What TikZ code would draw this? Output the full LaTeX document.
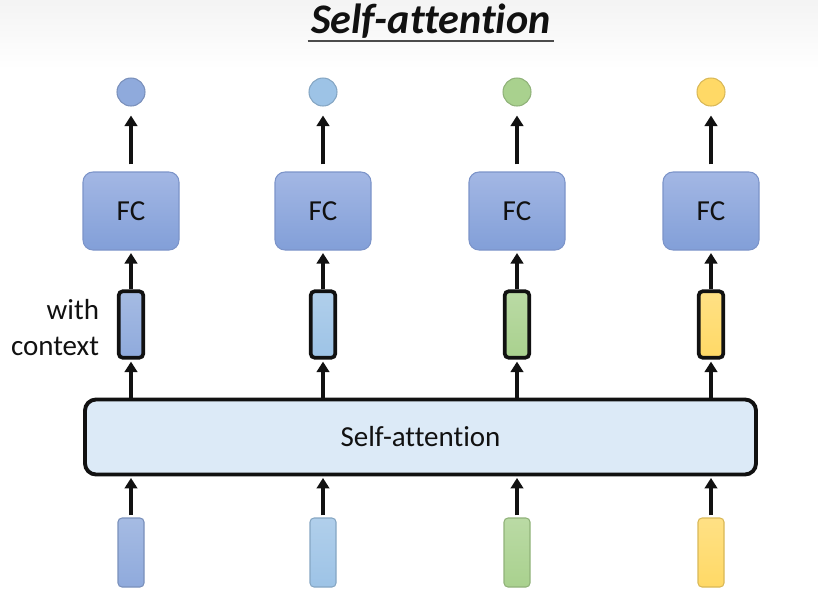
\documentclass[tikz,border=0pt]{standalone}
\usepackage{fontspec}
\setmainfont{Carlito}[Ligatures={NoCommon}]
\usepackage{tikz}
\usetikzlibrary{arrows.meta,positioning}
\definecolor{VecBlue}{HTML}{8FAADC}
\definecolor{VecSky}{HTML}{9DC3E6}
\definecolor{VecGreen}{HTML}{A9D18E}
\definecolor{VecGold}{HTML}{FFD966}
\definecolor{FCTop}{HTML}{A3B7E4}
\definecolor{FCBottom}{HTML}{829FD8}
\definecolor{FCEdge}{HTML}{7C94C9}
\definecolor{SAFill}{HTML}{DCEAF7}
\definecolor{Ink}{HTML}{111111}
\tikzset{
  every picture/.style={line width=2.1pt},
  bodytext/.style={font=\fontsize{16.5}{21}\selectfont, text=Ink},
  fcbox/.style={
    bodytext,
    draw=FCEdge,
    line width=0.6pt,
    rounded corners=2mm,
    top color=FCTop,
    bottom color=FCBottom,
    minimum width=19.2mm,
    minimum height=15.6mm,
    inner sep=0pt
  },
  ctxbox/.style={
    draw=Ink,
    line width=2.1pt,
    rounded corners=0.8mm,
    minimum width=4.9mm,
    minimum height=13.3mm,
    inner sep=0pt
  },
  vecbox/.style={
    line width=0.6pt,
    rounded corners=0.8mm,
    minimum width=5.2mm,
    minimum height=13.8mm,
    inner sep=0pt
  },
  outdot/.style={circle, line width=0.6pt, minimum size=5.6mm, inner sep=0pt},
  sabox/.style={
    bodytext,
    draw=Ink,
    line width=2.2pt,
    rounded corners=2.2mm,
    fill=SAFill,
    minimum width=134.2mm,
    minimum height=15.0mm
  },
  flowarrow/.style={-{Triangle[length=2.1mm,width=2.5mm]}, draw=Ink, line width=2.1pt},
  sidelabel/.style={bodytext, align=right, inner sep=0pt}
}

\begin{document}
\begin{tikzpicture}[x=0.2mm,y=-0.2mm]
  \useasboundingbox (0,0) rectangle (818,599);
  \shade[top color=gray!9, bottom color=white] (0,0) rectangle (818,70);

  % title
  \node[font=\fontsize{24}{28}\selectfont\bfseries\itshape, text=Ink, anchor=base, inner sep=1pt] (title) at (431,33) {Self-attention};
  \draw[line width=0.9pt, draw=Ink!75] ([yshift=-1.6mm]title.base west) -- ([yshift=-1.6mm]title.base east);

  \node[sabox] (sa) at (420.5,437) {Self-attention};

  \foreach \i/\x/\c in {1/131/VecBlue,2/323/VecSky,3/517/VecGreen,4/711/VecGold} {
    \node[outdot, fill=\c, draw=\c!85!black] (out\i) at (\x,92) {};
    \node[fcbox] (fc\i) at (\x,211) {FC};
    \node[ctxbox, top color=\c!80!white, bottom color=\c] (ctx\i) at (\x,324.5) {};
    \node[vecbox, top color=\c!80!white, bottom color=\c, draw=\c!85!black] (in\i) at (\x,552.5) {};
    \draw[flowarrow, shorten <=1.4mm, shorten >=1.8mm] (fc\i) -- (out\i);
    \draw[flowarrow, shorten >=0.5mm] (ctx\i) -- (fc\i);
    \draw[flowarrow, shorten >=0.4mm] (sa.north -| ctx\i) -- (ctx\i);
    \draw[flowarrow, shorten <=0.4mm, shorten >=0.3mm] (in\i) -- (in\i |- sa.south);
  }

  \node[sidelabel, left=3.2mm of ctx1, yshift=-0.6mm] (ctxlabel) {with\\context};
\end{tikzpicture}
\end{document}
